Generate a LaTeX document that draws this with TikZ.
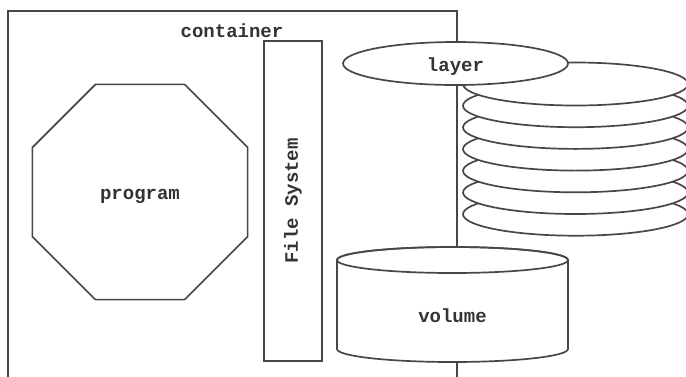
\documentclass[tikz,border=0pt]{standalone}
\usepackage{fontspec}
\setmonofont{Liberation Mono}
\usetikzlibrary{shapes.geometric}
\begin{document}
\begin{tikzpicture}[x=1pt,y=-1pt,
  every node/.style={font=\ttfamily\bfseries\fontsize{19}{21}\selectfont, text=black!80},
  shp/.style={draw=black!72, line width=1.7pt, fill=white, inner sep=0pt},
  disk/.style={shp, ellipse, minimum width=225pt, minimum height=43pt}]
\useasboundingbox (0,0) rectangle (686,376);
\clip (0,0) rectangle (686,376);
\fill[white] (0,0) rectangle (686,376);
% container
\node[shp, anchor=north west, minimum width=449pt, minimum height=400pt] (container) at (7,10) {};
\node (clabel) at (232,31) {container};
% program
\node[shp, regular polygon, regular polygon sides=8, minimum size=233pt] (program) at (140,192) {};
\node (ptext) at (140,196) {program};
% file system
\node[shp, rotate=90, minimum width=320pt, minimum height=58pt] (fs) at (293,201) {File System};
% layer stack (bottom first)
\foreach \k in {6,5,...,0}{
  \node[disk] (stack\k) at (575.5,{84+21.7*\k}) {};
}
\node[disk] (layer) at (455.5,63.5) {};
\node (ltext) at (455.5,67) {layer};
% volume cylinder
\filldraw[draw=black!72, line width=1.7pt, fill=white]
  (337,260) -- (337,349) arc[start angle=180, end angle=0, x radius=115.5, y radius=13]
  -- (568,260) arc[start angle=0, end angle=-180, x radius=115.5, y radius=13] -- cycle;
\draw[draw=black!72, line width=1.7pt] (452.5,260) ellipse[x radius=115.5, y radius=13];
\node (volume) at (452.5,316) {volume};
\end{tikzpicture}
\end{document}
